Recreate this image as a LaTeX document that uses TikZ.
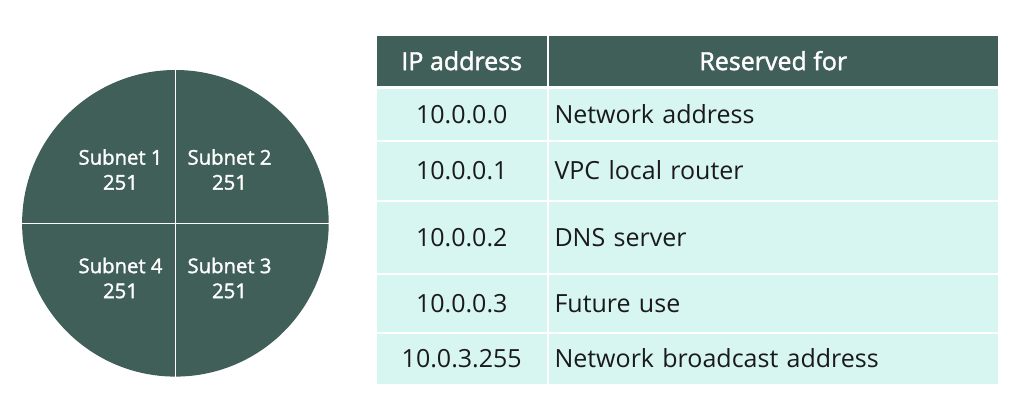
\documentclass[tikz,border=0pt]{standalone}
\usepackage{fontspec}
\setmainfont{Open Sans}
\newfontfamily\osemi{Open Sans}[FakeBold=1.6]
\definecolor{darkteal}{HTML}{3F5F58}
\definecolor{lightteal}{HTML}{D7F5F1}
\definecolor{ink}{HTML}{1A1A1A}
\tikzset{
  cellbase/.style={rectangle, inner sep=0pt, outer sep=0pt, font=\fontsize{25}{30}\selectfont, text height=18.2pt, text depth=0pt},
  hdr/.style={cellbase, fill=darkteal, text=white, font=\fontsize{25}{30}\selectfont\osemi},
  ipcell/.style={cellbase, fill=lightteal, text=ink, minimum width=169.5pt},
  usecell/.style={cellbase, fill=lightteal, text=ink, minimum width=449.5pt, text width=437.5pt, inner xsep=6pt, align=left},
  subnet/.style={text=white, align=center, inner sep=0pt, font=\fontsize{20.3}{25}\selectfont\osemi},
  divider/.style={white, line width=1.5pt}
}
\begin{document}
\begin{tikzpicture}[x=1pt, y=-1pt]
\useasboundingbox (0,0) rectangle (1020,417);
% pie
\node[circle, fill=darkteal, minimum size=306.6pt, inner sep=0pt, outer sep=0pt] (pie) at (175.4,223.3) {};
\draw[divider] (pie.north) -- (pie.south);
\draw[divider] (pie.west) -- (pie.east);
\node[subnet] (s1) at (120.5,169.5) {Subnet 1\\251};
\node[subnet] (s2) at (229.5,169.5) {Subnet 2\\251};
\node[subnet] (s4) at (120.5,278) {Subnet 4\\251};
\node[subnet] (s3) at (229.5,278) {Subnet 3\\251};
% table header
\node[hdr, minimum width=169.5pt, minimum height=50pt] (h1) at (461.75,61) {IP address};
\node[hdr, minimum width=449.5pt, minimum height=50pt] (h2) at (773.25,61) {Reserved for};
% rows
\node[ipcell, minimum height=51pt] (a1) at (461.75,114.5) {10.0.0.0};
\node[usecell, minimum height=51pt] (b1) at (773.25,114.5) {Network address};
\node[ipcell, minimum height=57.5pt] (a2) at (461.75,170.75) {10.0.0.1};
\node[usecell, minimum height=57.5pt] (b2) at (773.25,170.75) {VPC local router};
\node[ipcell, minimum height=71pt] (a3) at (461.75,237) {10.0.0.2};
\node[usecell, minimum height=71pt] (b3) at (773.25,237) {DNS server};
\node[ipcell, minimum height=57pt] (a4) at (461.75,303) {10.0.0.3};
\node[usecell, minimum height=57pt] (b4) at (773.25,303) {Future use};
\node[ipcell, minimum height=50.5pt] (a5) at (461.75,358.75) {10.0.3.255};
\node[usecell, minimum height=50.5pt] (b5) at (773.25,358.75) {Network broadcast address};
\end{tikzpicture}
\end{document}
